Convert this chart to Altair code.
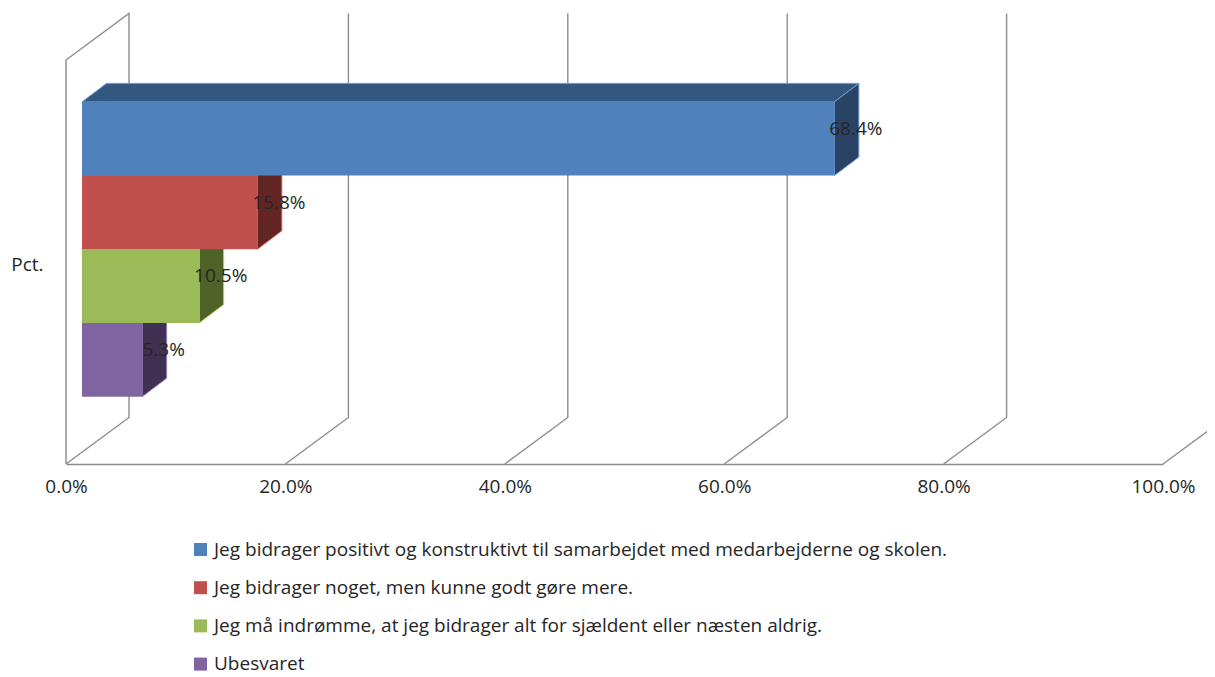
import altair as alt
import pandas as pd

labels = [
    "Jeg bidrager positivt og konstruktivt til samarbejdet med medarbejderne og skolen.",
    "Jeg bidrager noget, men kunne godt gøre mere.",
    "Jeg må indrømme, at jeg bidrager alt for sjældent eller næsten aldrig.",
    "Ubesvaret",
]
values = [68.4, 15.8, 10.5, 5.3]
front_colors = ["#4F81BD", "#C0504D", "#9BBB59", "#8064A2"]
top_colors = ["#34577F", "#7E2F2D", "#66803A", "#54426C"]
side_colors = ["#2A4365", "#632523", "#4F6228", "#403152"]
edge_colors = ["#6C9AD6", "#DA6360", "#B5D56A", "#9A7CC0"]
ticks = [0, 20, 40, 60, 80, 100]
category = "Pct."

FONT = "Open Sans"
FS = 19
TEXT = "#262626"
GRID = "#8C8C8C"
PX = 1097 / 100          # pixels per percent
PLOT_H = 404
WALL_DX, WALL_DY = 63 / PX, 46.5
BAR_DX, BAR_DY = 24.5 / PX, 18.5
BAR_START = 16 / PX
BAR_SHIFT = 18 / PX
BAR_H = 73.7
BAR_FLOOR = 67.3

xs = alt.Scale(domain=[0, 100], nice=False, zero=False)
ys = alt.Scale(domain=[0, PLOT_H], nice=False, zero=False)
x_axis = alt.Axis(
    values=ticks, labelExpr="format(datum.value / 100, '.1%')", title=None,
    grid=False, ticks=False, domain=True, domainColor=GRID, domainWidth=1.4,
    labelFont=FONT, labelFontSize=FS, labelColor=TEXT, labelPadding=13,
    labelFlush=False, labelOverlap=False,
)
y_axis = alt.Axis(
    values=[200], labelExpr=f"'{category}'", title=None,
    grid=False, ticks=False, domain=False,
    labelFont=FONT, labelFontSize=FS, labelColor=TEXT, labelPadding=23,
)
X = alt.X("x:Q", scale=xs, axis=x_axis)
Y = alt.Y("y:Q", scale=ys, axis=y_axis)

# wall and floor lines
wall = []
for t in ticks:
    wall.append(dict(k=f"f{t}", o=0, x=t, y=0))
    wall.append(dict(k=f"f{t}", o=1, x=t + WALL_DX, y=WALL_DY))
    if t < 100:
        wall.append(dict(k=f"f{t}", o=2, x=t + WALL_DX, y=PLOT_H + WALL_DY))
wall.append(dict(k="f0", o=3, x=0, y=PLOT_H))
wall.append(dict(k="f0", o=4, x=0, y=0))
wall_chart = alt.Chart(pd.DataFrame(wall)).mark_line(
    color=GRID, strokeWidth=1.4, clip=False
).encode(x=X, y=Y, detail="k:N", order="o:Q")

rows, faces = [], []
for i, (lab, v) in enumerate(zip(labels, values)):
    bot = BAR_FLOOR + (3 - i) * BAR_H
    top = bot + BAR_H
    a, b = BAR_START, v + BAR_SHIFT
    rows.append(dict(label=lab, x=a, x2=b, y=bot, y2=top, v=v / 100,
                     tx=b + 21.5 / PX, ty=top - 27))
    for px, py, py2 in [
        (a, top, top),
        (a + BAR_DX, top + BAR_DY, top),
        (b, top + BAR_DY, top),
        (b + BAR_DX, top + BAR_DY, top + BAR_DY),
    ]:
        faces.append(dict(k=f"top{i}", x=px, y=py, y2=py2, f=top_colors[i], s=edge_colors[i]))
    for px, py, py2 in [
        (b, top, bot),
        (b + BAR_DX, top + BAR_DY, bot + BAR_DY),
    ]:
        faces.append(dict(k=f"side{i}", x=px, y=py, y2=py2, f=side_colors[i], s=edge_colors[i]))

df = pd.DataFrame(rows)
faces_chart = alt.Chart(pd.DataFrame(faces)).mark_area(strokeWidth=1, clip=False).encode(
    x=X,
    y=Y,
    y2="y2:Q",
    fill=alt.Fill("f:N", scale=None),
    stroke=alt.Stroke("s:N", scale=None),
    detail="k:N",
)

front = alt.Chart(df).mark_rect(clip=False).encode(
    x=X,
    x2="x2:Q",
    y=Y,
    y2="y2:Q",
    color=alt.Color(
        "label:N",
        scale=alt.Scale(domain=labels, range=front_colors),
        sort=labels,
        legend=alt.Legend(
            title=None, orient="none", legendX=125, legendY=480, padding=0,
            symbolType="square", symbolSize=169, symbolStrokeWidth=0,
            labelFont=FONT, labelFontSize=FS, labelColor=TEXT, labelLimit=0,
            rowPadding=18.2, labelOffset=4,
        ),
    ),
)

text = alt.Chart(df).mark_text(
    font=FONT, fontSize=FS, color=TEXT, align="center", baseline="middle", clip=False
).encode(
    x=alt.X("tx:Q", scale=xs, axis=x_axis),
    y=alt.Y("ty:Q", scale=ys, axis=y_axis),
    text=alt.Text("v:Q", format=".1%"),
)

chart = alt.layer(wall_chart, faces_chart, front, text).resolve_scale(
    color="independent"
).properties(
    width=1097,
    height=PLOT_H,
    autosize=alt.AutoSizeParams(type="none"),
    padding={"left": 58, "top": 52, "right": 44, "bottom": 213},
).configure_view(stroke=None)

chart.save("out.html", embed_options={"renderer": "svg", "actions": False})
